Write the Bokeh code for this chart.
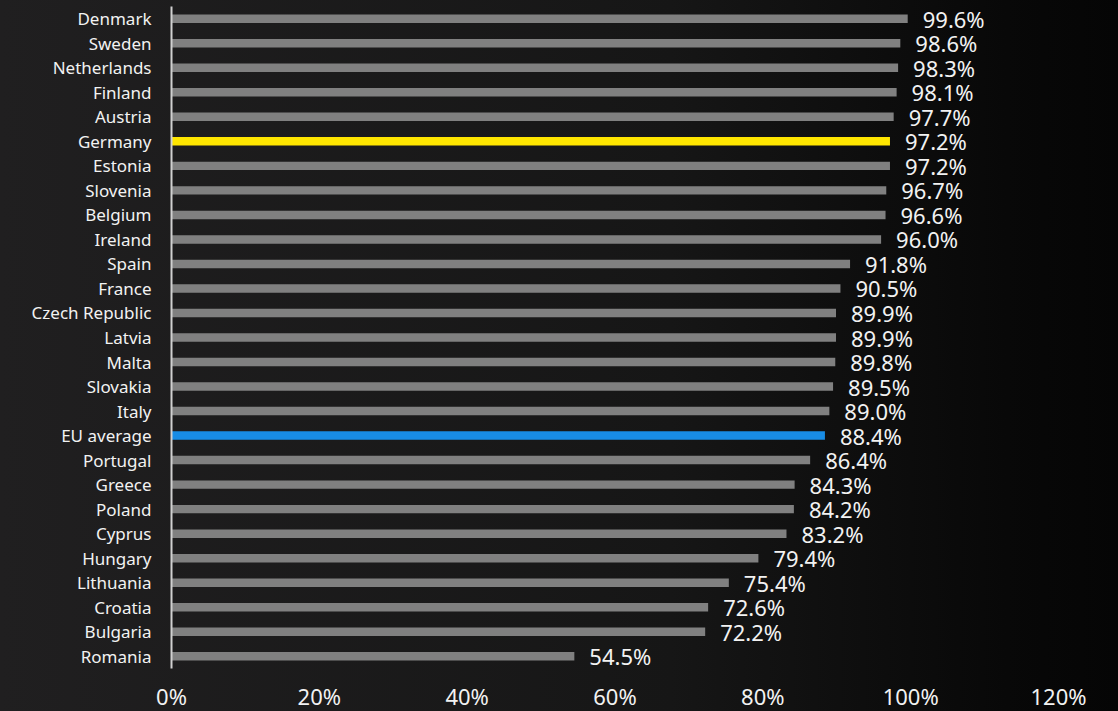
from bokeh.plotting import figure
from bokeh.models import ColumnDataSource, FactorRange, Range1d, PrintfTickFormatter, FixedTicker
from bokeh.core.properties import value
from bokeh.embed import file_html
from bokeh.resources import INLINE

countries = ["Denmark", "Sweden", "Netherlands", "Finland", "Austria", "Germany", "Estonia",
             "Slovenia", "Belgium", "Ireland", "Spain", "France", "Czech Republic", "Latvia",
             "Malta", "Slovakia", "Italy", "EU average", "Portugal", "Greece", "Poland",
             "Cyprus", "Hungary", "Lithuania", "Croatia", "Bulgaria", "Romania"]
values = [99.6, 98.6, 98.3, 98.1, 97.7, 97.2, 97.2, 96.7, 96.6, 96.0, 91.8, 90.5, 89.9, 89.9,
          89.8, 89.5, 89.0, 88.4, 86.4, 84.3, 84.2, 83.2, 79.4, 75.4, 72.6, 72.2, 54.5]
x_ticks = [0, 20, 40, 60, 80, 100, 120]

GRAY = "#808080"
YELLOW = "#ffe600"
BLUE = "#188ce5"
colors = [YELLOW if c == "Germany" else BLUE if c == "EU average" else GRAY for c in countries]
labels = ["%.1f%%" % v for v in values]

src = ColumnDataSource(dict(country=countries, val=values, color=colors, label=labels))

FONT = "Noto Sans"

p = figure(
    y_range=FactorRange(*reversed(countries), range_padding=0),
    x_range=Range1d(0, 120),
    frame_width=887, frame_height=662,
    min_border_left=171, min_border_right=60, min_border_top=6, min_border_bottom=20,
    output_backend="svg", toolbar_location=None,
)
p.styles = {"background": "linear-gradient(to right, #201f20 0%, #161616 60%, #080808 90%, #050505 100%)"}
p.background_fill_alpha = 0
p.border_fill_alpha = 0
p.outline_line_color = None
p.grid.grid_line_color = None

p.hbar(y="country", right="val", left=0, height=0.345, fill_color="color",
       line_color=None, source=src)
p.text(x="val", y="country", text="label", source=src, x_offset=15,
       text_baseline="middle", text_align="left", text_color="#f2f2f2",
       text_font=value(FONT), text_font_size="22px")

xa = p.xaxis[0]
xa.ticker = FixedTicker(ticks=x_ticks)
xa.formatter = PrintfTickFormatter(format="%d%%")
xa.axis_line_color = None
xa.major_tick_line_color = None
xa.minor_tick_line_color = None
xa.major_label_standoff = 6
xa.major_label_text_color = "#f2f2f2"
xa.major_label_text_font = FONT
xa.major_label_text_font_size = "22px"

ya = p.yaxis[0]
ya.axis_line_color = "#d0d0d0"
ya.axis_line_width = 2
ya.major_tick_line_color = None
ya.minor_tick_line_color = None
ya.major_label_standoff = 14
ya.major_label_text_color = "#f2f2f2"
ya.major_label_text_font = FONT
ya.major_label_text_font_size = "17px"

open("out.html", "w").write(file_html(p, INLINE))
